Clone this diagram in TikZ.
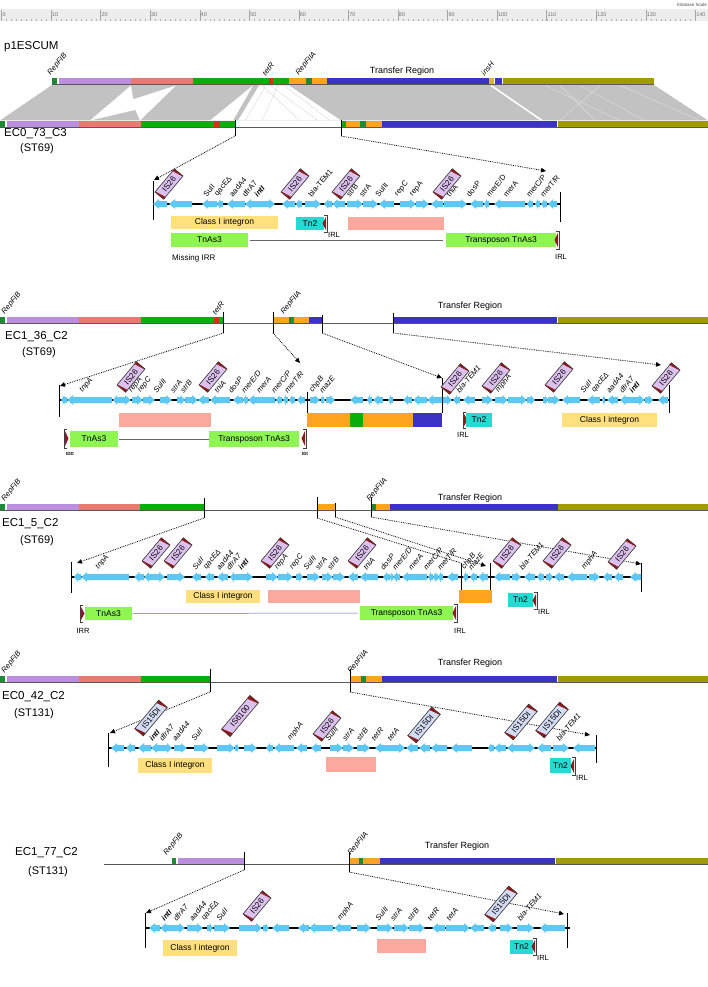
\documentclass[tikz,border=0pt]{standalone}
\usepackage{fontspec}
\setmainfont{Liberation Sans}
\usetikzlibrary{calc,arrows.meta}
\definecolor{dkgreen}{HTML}{1E8A35}
\definecolor{lav}{HTML}{BB8FDD}
\definecolor{salm}{HTML}{E87A72}
\definecolor{grn}{HTML}{0AAE0A}
\definecolor{redb}{HTML}{D3301E}
\definecolor{orng}{HTML}{FFA41C}
\definecolor{blu}{HTML}{3A33C6}
\definecolor{oliv}{HTML}{A09B00}
\definecolor{insy}{HTML}{D9B337}
\definecolor{genec}{HTML}{5EC8F4}
\definecolor{isfill}{HTML}{DCC0EE}
\definecolor{isred}{HTML}{8E1B1B}
\definecolor{isblue}{HTML}{D3DCF4}
\definecolor{intg}{HTML}{FFE07C}
\definecolor{salbox}{HTML}{FBA99C}
\definecolor{tnas}{HTML}{8EF553}
\definecolor{tntwo}{HTML}{26D9D2}
\definecolor{syn}{HTML}{C2C2C2}
\definecolor{scalebg}{HTML}{EDEDED}
\tikzset{
  glab/.style={rotate=50,anchor=south west,font=\fontsize{7.6}{8}\selectfont,inner sep=0.3pt},
  gi/.style={font=\fontsize{7.6}{8}\selectfont\itshape},
  barlab/.style={rotate=50,anchor=south west,font=\fontsize{7.5}{8}\selectfont\itshape,inner sep=0.3pt},
  plname/.style={anchor=west,font=\fontsize{11.5}{12}\selectfont,inner sep=0pt},
  stname/.style={font=\fontsize{11}{12}\selectfont,inner sep=0pt},
  trlab/.style={font=\fontsize{9}{10}\selectfont,inner sep=0pt},
  scl/.style={font=\fontsize{5.5}{6}\selectfont,text=black!55,inner sep=0pt},
  isn/.style={rotate=50,draw=black!70,line width=0.4pt,minimum height=11pt,font=\fontsize{8}{8}\selectfont,inner sep=0.5pt},
  featbox/.style={font=\fontsize{8.5}{9}\selectfont,inner sep=0pt},
  smalllab/.style={font=\fontsize{7.5}{8}\selectfont,inner sep=0pt},
  tinylab/.style={font=\fontsize{4.5}{5}\selectfont\bfseries,inner sep=0pt},
  dotarrow/.style={densely dotted,line width=0.8pt,-{Triangle[length=5pt,width=4.5pt]}},
  dotline/.style={densely dotted,line width=0.8pt},
  endbar/.style={line width=1pt},
  backbone/.style={line width=1.8pt},
  thinbar/.style={line width=0.7pt,black!65},
}
\newcommand{\seg}[4]{\fill[#4] (#1,#3-3.3) rectangle (#2,#3+3.3);}
\newcommand{\genes}[2]{%
  \foreach \ga/\gb/\gs in {#2}{%
    \pgfmathsetmacro\gh{min(6,0.55*(\gb-\ga))}%
    \if\gs r%
      \fill[genec] (\ga,#1-3) -- (\gb-\gh,#1-3) -- (\gb-\gh,#1-4.8) -- (\gb,#1) -- (\gb-\gh,#1+4.8) -- (\gb-\gh,#1+3) -- (\ga,#1+3) -- cycle;%
    \else%
      \fill[genec] (\gb,#1-3) -- (\ga+\gh,#1-3) -- (\ga+\gh,#1-4.8) -- (\ga,#1) -- (\ga+\gh,#1+4.8) -- (\ga+\gh,#1+3) -- (\gb,#1+3) -- cycle;%
    \fi}}
\newcommand{\glabels}[3]{\foreach \gx/\gt in {#3}{\node[glab,#2] (t#1-\gx) at (\gx,#1) {\gt};}}
\newcommand{\isbox}[6]{%
  \node[isn,fill=#5,minimum width=#6pt] (#1) at (#2,#3) {#4};
  \fill[isred] (#1.north west) -- (#1.south west) -- ($(#1.south west)!0.1!(#1.south east)$) -- ($(#1.west)!0.06!(#1.east)$) -- ($(#1.north west)!0.02!(#1.north east)$) -- cycle;
  \fill[isred] (#1.north east) -- (#1.south east) -- ($(#1.south east)!0.02!(#1.south west)$) -- ($(#1.east)!0.06!(#1.west)$) -- ($(#1.north east)!0.1!(#1.north west)$) -- cycle;
  \draw[black!75,line width=0.4pt] (#1.north west) -- (#1.north east) -- (#1.south east) -- (#1.south west) -- cycle;}
\newcommand{\tnEndRight}[3]{%
  \draw[black!75,line width=0.7pt] (#1-3,#2) -- (#1,#2) -- (#1,#3) -- (#1-3,#3);
  \fill[isred] (#1-0.8,#2+1.5) -- (#1-0.8,#3-1.5) -- (#1-4.5,{(#2+#3)/2}) -- cycle;}
\newcommand{\tnEndLeft}[3]{%
  \draw[black!75,line width=0.7pt] (#1+3,#2) -- (#1,#2) -- (#1,#3) -- (#1+3,#3);
  \fill[isred] (#1+0.8,#2+1.5) -- (#1+0.8,#3-1.5) -- (#1+4.5,{(#2+#3)/2}) -- cycle;}
\begin{document}
\begin{tikzpicture}[x=1pt,y=-1pt]
\useasboundingbox (0,0) rectangle (708,987);
\fill[white] (0,0) rectangle (708,987);
% ---------------- scale
\fill[scalebg] (0,9) rectangle (708,21);
\foreach \k in {0,...,140}{\draw[black!30,line width=0.3pt] ({1.5+4.956*\k},19) -- ({1.5+4.956*\k},21);}
\foreach \k in {0,10,...,140}{\draw[black!35,line width=0.4pt] ({1.5+4.956*\k},10) -- ({1.5+4.956*\k},21);
  \node[scl,anchor=west] (s\k) at ({2.3+4.956*\k},14.5) {\k};}
\node[anchor=east,font=\fontsize{4.5}{5}\selectfont,text=black!70,inner sep=0pt] (kbs) at (707,4.5) {Kilobase Scale};
% ---------------- p1ESCUM
\node[plname] (p1) at (4,47) {p1ESCUM};
\fill[syn] (52,85) -- (654,85) -- (708,120.5) -- (0,120.5) -- cycle;
\fill[white] (90,120.5) -- (131,85.5) -- (135,110) -- cycle;
\fill[white] (140,120.5) -- (176,85.5) -- (131,100) -- cycle;
\fill[white] (210,120.5) -- (253,85.5) -- (233,120.5) -- cycle;
\fill[white] (238,120.5) -- (259,85.5) -- (289,85.5) -- (341,120.5) -- cycle;
\foreach \p/\q in {262/300,270/318,278/262,284/330,266/245}{\draw[black!18,line width=0.3pt] (\p,85.5) -- (\q,120.5);}
\draw[white,line width=1.6pt] (491,85.5) -- (542,120.5);
\foreach \p/\q in {545/620,560/595,580/645,600/560,620/700}{\draw[white!50!syn,line width=0.4pt] (\p,85.5) -- (\q,120.5);}
\seg{52}{57}{81.5}{dkgreen}\seg{58.5}{131}{81.5}{lav}\seg{131}{193}{81.5}{salm}\seg{193}{269}{81.5}{grn}
\seg{269}{273}{81.5}{redb}\seg{273}{289}{81.5}{grn}\seg{289}{306}{81.5}{orng}\seg{306}{311.5}{81.5}{dkgreen}
\seg{311.5}{327}{81.5}{orng}\seg{327}{489}{81.5}{blu}\seg{489}{494}{81.5}{insy}\seg{495}{502}{81.5}{blu}\seg{503}{654}{81.5}{oliv}
\draw[thinbar] (52,84.6) -- (654,84.6);
\node[barlab] (p1a) at (52,77) {RepFIB};
\node[barlab] (p1b) at (266,77) {tetR};
\node[barlab] (p1c) at (300,77) {RepFIIA};
\node[barlab] (p1d) at (485,77) {insH};
\node[trlab] (p1t) at (402,71) {Transfer Region};
% ---------------- EC0_73_C3
\seg{0}{5.4}{124}{dkgreen}\seg{7}{79}{124}{lav}\seg{79}{141}{124}{salm}\seg{141}{213.5}{124}{grn}\seg{213.5}{220}{124}{redb}
\seg{220}{235}{124}{grn}\seg{341}{346}{124}{grn}\seg{346}{360}{124}{orng}\seg{360}{366}{124}{dkgreen}\seg{366}{382}{124}{orng}
\seg{382}{557}{124}{blu}\seg{558}{708}{124}{oliv}
\draw[thinbar] (0,127) -- (708,127);
\coordinate (k1a) at (235,136); \coordinate (k1b) at (341,136);
\draw[endbar] (235,120) -- (k1a); \draw[endbar] (341,120) -- (k1b);
\node[plname] (n1) at (4,134) {EC0\_73\_C3};
\node[stname] (n1s) at (37,149) {(ST69)};
\coordinate (m1l) at (154,180); \coordinate (m1r) at (546,171);
\draw[dotarrow] (k1a) -- (m1l);
\draw[dotarrow] (k1b) -- (m1r);
\draw[backbone] (153,204) -- (560,204);
\draw[endbar] (153,181) -- (153,220); \draw[endbar] (560,192) -- (560,222);
\genes{204}{153/167/l,169/192/l,202/217/l,217/223/l,227/245/l,245/256/l,256/275/r,282/295/l,296/302/l,305/321/r,324/332/l,332/345/l,347/363/r,363/378/r,379/394/l,400/416/r,416/429/r,431/443/l,444/467/r,470/483/l,484/489/l,494/525/l,527/533/l,535/540/l,541/547/l,548/557/l}
\glabels{198}{}{207/SulI,219/qacEΔ,233/aadA4,246/dfrA7,258/{\bfseries\itshape intI},312/bla-TEM1,350/strB,363/strA,379/SulII,399/repC,414/repA,450/tniA,470/dosP,490/{merE/D},507/merA,530/{merC/P},544/{merT/R}}
\isbox{isa1}{169}{184}{IS26}{isfill}{30}
\isbox{isa2}{295}{184}{IS26}{isfill}{30}
\isbox{isa3}{346}{184}{IS26}{isfill}{30}
\isbox{isa4}{447}{184}{IS26}{isfill}{30}
\node[featbox,fill=intg,minimum width=107pt,minimum height=13pt] (ci1) at (224.5,222.5) {Class I integron};
\node[featbox,fill=tntwo,minimum width=28pt,minimum height=13pt] (tn2a) at (310,223.5) {Tn2};
\tnEndRight{327}{215}{232}
\node[smalllab,anchor=west] (irl1) at (328,235) {IRL};
\node[fill=salbox,minimum width=96pt,minimum height=13pt] (sal1) at (396,223.5) {};
\node[featbox,fill=tnas,minimum width=77pt,minimum height=14pt] (tnas1) at (209.5,240) {TnAs3};
\node[featbox,fill=tnas,minimum width=110pt,minimum height=14pt] (tpt1) at (501,240) {Transposon TnAs3};
\draw[black!60,line width=0.6pt] ([xshift=2pt]tnas1.east) -- ([xshift=-3pt]tpt1.west);
\tnEndRight{559}{231}{249}
\node[smalllab] (irl2) at (561,257) {IRL};
\node[smalllab,anchor=west,font=\fontsize{8}{9}\selectfont] (mirr) at (172,258) {Missing IRR};
% ---------------- EC1_36_C2
\seg{0}{5}{320}{dkgreen}\seg{7}{79}{320}{lav}\seg{79}{141}{320}{salm}\seg{141}{213.5}{320}{grn}\seg{213.5}{219}{320}{redb}\seg{219}{223.5}{320}{grn}
\seg{273}{289}{320}{orng}\seg{289}{294}{320}{dkgreen}\seg{294}{309}{320}{orng}\seg{309}{322}{320}{blu}
\seg{393}{557}{320}{blu}\seg{558}{708}{320}{oliv}
\draw[thinbar] (0,323) -- (708,323);
\coordinate (k2a) at (223.5,333); \coordinate (k2b) at (273,333); \coordinate (k2c) at (322,333); \coordinate (k2d) at (393,333);
\draw[endbar] (223.5,312) -- (k2a); \draw[endbar] (273,312) -- (k2b); \draw[endbar] (322,315) -- (k2c); \draw[endbar] (393,313) -- (k2d);
\node[barlab] (b2a) at (6,316) {RepFIB};
\node[barlab] (b2b) at (216,316) {tetR};
\node[barlab] (b2c) at (285,316) {RepFIIA};
\node[trlab] (b2t) at (470,306) {Transfer Region};
\node[plname] (n2) at (5,337) {EC1\_36\_C2};
\node[stname] (n2s) at (39,353) {(ST69)};
\coordinate (m2a) at (60,386); \coordinate (m2b) at (300,363); \coordinate (m2c) at (442,378); \coordinate (m2d) at (661,365);
\draw[dotarrow] (k2a) -- (m2a);
\draw[dotarrow] (k2b) -- (m2b);
\draw[dotarrow] (k2c) -- (m2c);
\draw[dotarrow] (k2d) -- (m2d);
\draw[backbone] (59,400) -- (669,400);
\draw[endbar] (59,385) -- (59,417); \draw[endbar] (307,392) -- (307,414); \draw[endbar] (442,378) -- (442,413); \draw[endbar] (669,385) -- (669,413);
\genes{400}{61/67/l,67/112/l,113/120/l,120/131/r,132/143/r,143/155/r,160/172/r,177/185/r,185/198/r,198/209/l,210/230/l,233/243/l,243/248/l,248/275/l,276/282/l,283/288/l,289/295/l,297/305/l,310/320/r,321/325/r,326/335/r,350/363/l,367/372/l,373/383/l,388/393/l,403/412/l,413/427/l,427/442/l,443/452/r,453/460/l,463/475/l,482/493/r,495/508/r,508/527/r,527/535/r,543/548/r,548/560/r,562/580/l,587/600/l,602/605/l,607/618/l,620/630/l,630/645/r,645/653/r,658/668/l}
\glabels{394}{gi}{84/tnpA,133/repA,142/repC,157/SulII,174/strA,184/strB,218/tniA,232/dosP,245/{merE/D},260/merA,275/{merC/P},288/{merT/R},314/chpB,323/mazE,460/bla-TEM1,500/mphA,584/SulI,596/qacEΔ,610/aadA4,623/dfrA7,633/{\bfseries\itshape intI}}
\isbox{isb1}{131}{377}{IS26}{isfill}{30}
\isbox{isb2}{213}{377}{IS26}{isfill}{30}
\isbox{isb3}{455}{379}{IS26}{isfill}{30}
\isbox{isb4}{496}{378}{IS26}{isfill}{30}
\isbox{isb5}{559}{377}{IS26}{isfill}{30}
\isbox{isb6}{666}{378}{IS26}{isfill}{30}
\node[fill=salbox,minimum width=92pt,minimum height=14pt] (sal2) at (165,420) {};
\fill[orng] (307,413) rectangle (350,427); \fill[grn] (350,413) rectangle (363,427);
\fill[orng] (363,413) rectangle (413,427); \fill[blu] (413,413) rectangle (442,427);
\tnEndLeft{463}{412}{428}
\node[featbox,fill=tntwo,minimum width=26pt,minimum height=14pt] (tn2b) at (479,420) {Tn2};
\node[smalllab] (irl3) at (463,435) {IRL};
\node[featbox,fill=intg,minimum width=95pt,minimum height=14pt] (ci2) at (609.5,420) {Class I integron};
\tnEndLeft{64}{429}{448}
\node[featbox,fill=tnas,minimum width=48pt,minimum height=16pt] (tnas2) at (94,439) {TnAs3};
\node[featbox,fill=tnas,minimum width=90pt,minimum height=16pt] (tpt2) at (254,439) {Transposon TnAs3};
\draw[black!60,line width=0.6pt] ([xshift=1pt]tnas2.east) -- (tpt2.west);
\tnEndRight{306}{429}{448}
\node[tinylab] (idd) at (70,454) {IDD};
\node[tinylab] (idi) at (305,454) {IDI};
% ---------------- EC1_5_C2
\seg{0}{5}{507}{dkgreen}\seg{7}{79}{507}{lav}\seg{79}{140}{507}{salm}\seg{140}{204}{507}{grn}
\seg{317}{335}{507}{orng}\seg{371}{376}{507}{dkgreen}\seg{376}{390}{507}{orng}\seg{390}{558}{507}{blu}\seg{558}{708}{507}{oliv}
\draw[thinbar] (0,510) -- (708,510);
\coordinate (k3a) at (204,518); \coordinate (k3b) at (317,518); \coordinate (k3c) at (335,517); \coordinate (k3d) at (371,517);
\draw[endbar] (204,498) -- (k3a); \draw[endbar] (317,497) -- (k3b); \draw[endbar] (335,503) -- (k3c); \draw[endbar] (371,497) -- (k3d);
\node[barlab] (b3a) at (6,503) {RepFIB};
\node[barlab] (b3b) at (371,503) {RepFIIA};
\node[trlab] (b3t) at (470,498) {Transfer Region};
\node[plname] (n3) at (2,524) {EC1\_5\_C2};
\node[stname] (n3s) at (37,541) {(ST69)};
\coordinate (m3a) at (77,563); \coordinate (m3b) at (461,563); \coordinate (m3c) at (486,566); \coordinate (m3d) at (641,564);
\draw[dotarrow] (k3a) -- (m3a);
\draw[dotline] (k3b) -- (m3b);
\draw[dotarrow] (k3c) -- (m3c);
\draw[dotarrow] (k3d) -- (m3d);
\draw[backbone] (71,577) -- (641,577);
\draw[line width=2.8pt] (461,577) -- (490,577);
\draw[endbar] (71,562) -- (71,593); \draw[endbar] (461,563) -- (461,590); \draw[endbar] (490,563) -- (490,590); \draw[endbar] (641,563) -- (641,592);
\genes{577}{74/81/l,81/129/l,134/144/l,144/153/l,153/165/r,167/185/r,192/201/l,205/214/l,217/228/l,230/237/l,237/253/r,266/278/r,278/293/r,296/303/r,307/320/r,322/333/r,333/345/r,348/358/l,360/378/l,383/390/l,390/393/l,393/400/l,402/427/l,428/433/l,433/438/l,438/443/l,447/458/l,463/468/l,470/477/l,478/488/l,494/510/l,512/521/r,524/535/l,537/544/l,546/553/r,554/564/l,567/587/l,589/600/r,603/612/l,614/623/l,630/641/l}
\glabels{571}{gi}{100/tnpA,196/SulI,208/qacEΔ,220/aadA4,230/dfrA7,242/{\bfseries\itshape intI},279/repA,294/repC,307/SulII,319/strA,331/strB,367/tniA,384/dosP,396/{merE/D},412/merA,427/{merC/P},441/{merT/R},466/chpB,472/mazE,523/bla-TEM1,586/mphA}
\isbox{isc1}{156}{553}{IS26}{isfill}{30}
\isbox{isc2}{178}{553}{IS26}{isfill}{30}
\isbox{isc3}{275}{553}{IS26}{isfill}{30}
\isbox{isc4}{362}{553}{IS26}{isfill}{30}
\isbox{isc5}{507}{553}{IS26}{isfill}{30}
\isbox{isc6}{557}{553}{IS26}{isfill}{30}
\isbox{isc7}{622}{554}{IS26}{isfill}{30}
\node[featbox,fill=intg,minimum width=74pt,minimum height=13pt] (ci3) at (223,596.5) {Class I integron};
\node[fill=salbox,minimum width=92pt,minimum height=13pt] (sal3) at (314,596.5) {};
\fill[orng] (459,590) rectangle (492,603);
\node[featbox,fill=tntwo,minimum width=25pt,minimum height=14pt] (tn2c) at (520.5,600) {Tn2};
\tnEndRight{537}{592}{609}
\node[smalllab,anchor=west] (irl4) at (538,612) {IRL};
\tnEndLeft{80}{605}{622}
\node[featbox,fill=tnas,minimum width=47pt,minimum height=13pt] (tnas3) at (108.5,613.5) {TnAs3};
\node[featbox,fill=tnas,minimum width=93pt,minimum height=14pt] (tpt3) at (406.5,613) {Transposon TnAs3};
\draw[black!45!blue!60,line width=0.5pt] ([xshift=1pt]tnas3.east) -- ([xshift=-2pt]tpt3.west);
\tnEndRight{457}{604}{622}
\node[smalllab] (irr3) at (83,631) {IRR};
\node[smalllab] (irl5) at (460,631) {IRL};
% ---------------- EC0_42_C2
\seg{0}{5}{679}{dkgreen}\seg{7}{79}{679}{lav}\seg{79}{141}{679}{salm}\seg{141}{210}{679}{grn}
\seg{351}{361}{679}{orng}\seg{361}{366}{679}{dkgreen}\seg{366}{382}{679}{orng}\seg{382}{557}{679}{blu}\seg{558}{708}{679}{oliv}
\draw[thinbar] (0,682) -- (708,682);
\coordinate (k4a) at (210,692); \coordinate (k4b) at (350,692);
\draw[endbar] (210,669) -- (k4a); \draw[endbar] (350,669) -- (k4b);
\node[barlab] (b4a) at (6,675) {RepFIB};
\node[barlab] (b4b) at (352,675) {RepFIIA};
\node[trlab] (b4t) at (470,663) {Transfer Region};
\node[plname] (n4) at (2,697) {EC0\_42\_C2};
\node[stname] (n4s) at (34,714) {(ST131)};
\coordinate (m4a) at (110,733); \coordinate (m4b) at (590,735);
\draw[dotarrow] (k4a) -- (m4a);
\draw[dotarrow] (k4b) -- (m4b);
\draw[backbone] (108,748) -- (597,748);
\draw[endbar] (108,733) -- (108,767); \draw[endbar] (596,735) -- (596,763);
\genes{748}{111/124/l,126/135/l,138/151/l,151/163/l,163/172/r,174/187/r,194/209/r,217/235/r,235/239/r,244/257/r,266/273/l,274/294/l,296/307/l,311/321/l,330/343/r,343/354/r,357/370/r,375/386/l,386/405/r,406/418/l,419/430/l,431/447/l,451/472/l,488/494/l,494/506/l,507/524/l,524/535/r,537/551/l,553/569/r,573/595/l}
\glabels{742}{gi}{153/{\bfseries\itshape intI},163/dfrA7,176/aadA4,195/SulI,292/mphA,329/SulII,346/strA,360/strB,375/tetR,391/tetA,560/bla-TEM1}
\isbox{isd1}{151}{718}{IS15DI}{isblue}{37}
\isbox{isd2}{240}{716}{IS6100}{isfill}{44}
\isbox{isd3}{327}{726}{IS26}{isfill}{30}
\isbox{isd4}{424}{725}{IS15DI}{isblue}{37}
\isbox{isd5}{521}{722}{IS15DI}{isblue}{37}
\isbox{isd6}{552}{720}{IS15DI}{isblue}{37}
\node[featbox,fill=intg,minimum width=74pt,minimum height=15pt] (ci4) at (175,765.5) {Class I integron};
\node[fill=salbox,minimum width=50pt,minimum height=15pt] (sal4) at (351,764.5) {};
\node[featbox,fill=tntwo,minimum width=21pt,minimum height=15pt] (tn2d) at (560.5,765.5) {Tn2};
\tnEndRight{575}{757}{775}
\node[smalllab,anchor=west] (irl6) at (576,778) {IRL};
% ---------------- EC1_77_C2
\draw[thinbar] (104,864) -- (708,864);
\seg{171.5}{176}{861}{dkgreen}\seg{178}{244}{861}{lav}
\seg{350}{359}{861}{orng}\seg{359}{363}{861}{dkgreen}\seg{363}{380}{861}{orng}\seg{380}{555}{861}{blu}\seg{556}{708}{861}{oliv}
\draw[thinbar] (171.5,864) -- (244,864); \draw[thinbar] (350,864) -- (708,864);
\coordinate (k5a) at (244,870); \coordinate (k5b) at (349,872);
\draw[endbar] (244,852) -- (k5a); \draw[endbar] (349,852) -- (k5b);
\node[barlab] (b5a) at (168,857) {RepFIB};
\node[barlab] (b5b) at (352,857) {RepFIIA};
\node[trlab] (b5t) at (457,846) {Transfer Region};
\node[plname] (n5) at (15,853) {EC1\_77\_C2};
\node[stname] (n5s) at (48,872) {(ST131)};
\coordinate (m5a) at (146,913); \coordinate (m5b) at (564,914);
\draw[dotarrow] (k5a) -- (m5a);
\draw[dotarrow] (k5b) -- (m5b);
\draw[backbone] (145,928) -- (570,928);
\draw[endbar] (145,913) -- (145,948); \draw[endbar] (567,913) -- (567,948);
\genes{928}{149/160/l,160/173/l,173/185/r,187/203/r,207/213/r,214/230/r,239/262/r,263/269/r,272/289/l,298/309/l,309/333/l,334/351/l,357/371/r,377/393/r,394/409/r,409/425/r,432/445/l,446/470/r,470/484/l,488/496/l,500/513/r,517/534/r,540/565/l}
\glabels{922}{gi}{165/{\bfseries\itshape intI},177/dfrA7,193/aadA4,206/qacEΔ,220/SulI,342/mphA,379/SulII,394/strA,411/strB,431/tetR,450/tetA,521/bla-TEM1}
\isbox{ise1}{257}{906}{IS26}{isfill}{30}
\isbox{ise2}{501}{904}{IS15DI}{isblue}{37}
\node[featbox,fill=intg,minimum width=74pt,minimum height=16pt] (ci5) at (200,948) {Class I integron};
\node[fill=salbox,minimum width=49pt,minimum height=14pt] (sal5) at (401.5,946) {};
\node[featbox,fill=tntwo,minimum width=23pt,minimum height=14pt] (tn2e) at (521.5,946.5) {Tn2};
\tnEndRight{536}{938}{955}
\node[smalllab,anchor=west] (irl7) at (537,958) {IRL};
\end{tikzpicture}
\end{document}
